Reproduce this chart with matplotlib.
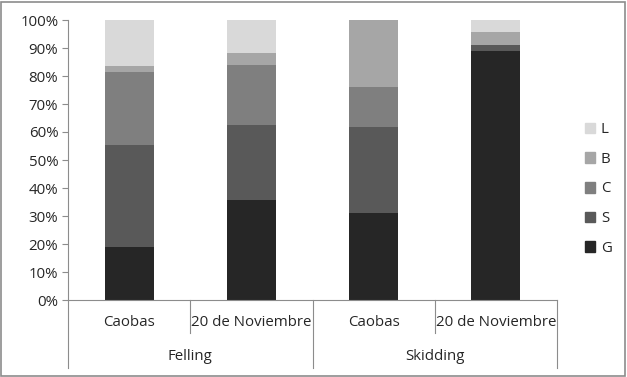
import numpy as np
import matplotlib.pyplot as plt
from matplotlib.lines import Line2D
from matplotlib.patches import Rectangle

# data (percent)
sites = ["Caobas", "20 de Noviembre", "Caobas", "20 de Noviembre"]
phases = ["Felling", "Skidding"]
G = [18.8, 35.7, 31.0, 89.0]
S = [36.6, 26.8, 30.9, 2.2]
C = [26.1, 21.4, 14.3, 0.0]
B = [2.2, 4.4, 23.8, 4.6]
L = [16.3, 11.7, 0.0, 4.2]

series = [("G", G, "#262626"), ("S", S, "#595959"), ("C", C, "#7f7f7f"),
          ("B", B, "#a6a6a6"), ("L", L, "#d9d9d9")]

plt.rcParams['font.family'] = ['Open Sans', 'DejaVu Sans']
fs = 10.8
tc = '#262626'

fig = plt.figure(figsize=(6.27, 3.77), dpi=100)
ax = fig.add_axes([68 / 627, 77 / 377, 489 / 627, 280 / 377])

x = np.arange(len(sites))
bottom = np.zeros(len(sites))
handles = []
for name, vals, col in series:
    ax.bar(x, vals, 0.4, bottom=bottom, color=col, edgecolor='none')
    bottom += np.array(vals)
    handles.append(Rectangle((0, 0), 1, 1, color=col, label=name))

ax.set_xlim(-0.5, 3.5)
ax.set_ylim(0, 100)
ax.set_yticks(np.arange(0, 101, 10))
ax.set_yticklabels([f"{v}%" for v in range(0, 101, 10)], fontsize=fs, color=tc)
ax.set_xticks([])
for s in ['top', 'right']:
    ax.spines[s].set_visible(False)
for s in ['left', 'bottom']:
    ax.spines[s].set_color('#8c8c8c')
ax.tick_params(axis='y', length=4, color='#8c8c8c', pad=3)

# multi-level category axis
trans = ax.get_xaxis_transform()
for xs, ybot in [(-0.5, 368), (0.5, 333), (1.5, 368), (2.5, 333), (3.5, 368)]:
    ax.add_line(Line2D([xs, xs], [0, (300 - ybot) / 280.0], transform=trans,
                       color='#8c8c8c', lw=0.8, clip_on=False))
for i, name in enumerate(sites):
    ax.text(i, (300 - 323) / 280.0, name, transform=trans, ha='center', va='center',
            fontsize=fs, color=tc)
for j, name in enumerate(phases):
    ax.text(2 * j + 0.5, (300 - 357) / 280.0, name, transform=trans, ha='center',
            va='center', fontsize=fs, color=tc)

leg = fig.legend(handles=handles[::-1], loc='center left', bbox_to_anchor=(571 / 627, 1 - 189 / 377),
                 frameon=False, fontsize=fs, handlelength=0.7, handleheight=0.7,
                 labelspacing=0.97, handletextpad=0.4)
for t in leg.get_texts():
    t.set_color(tc)

fig.patches.append(Rectangle((0.002, 0.003), 0.995, 0.993, transform=fig.transFigure,
                             fill=False, edgecolor='#8c8c8c', lw=1.2))

fig.savefig("out.png", dpi=100)
